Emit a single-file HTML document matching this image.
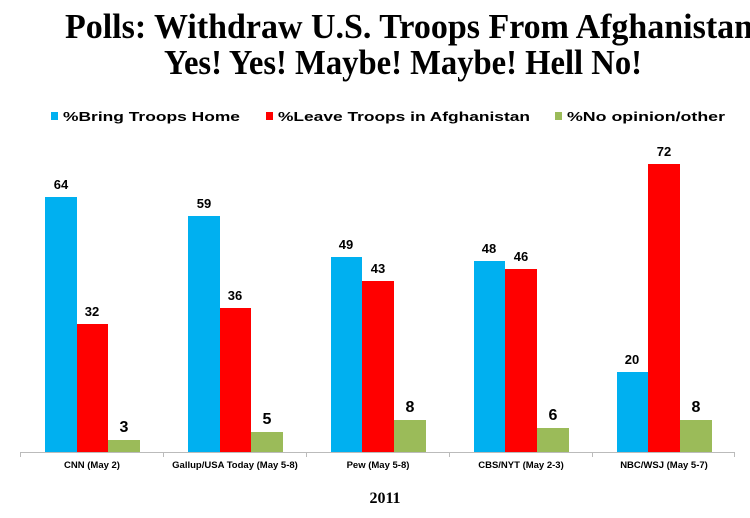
<!DOCTYPE html>
<html><head><style>body{margin:0;background:#fff}svg{display:block}</style></head>
<body>
<svg width="750" height="518" xmlns="http://www.w3.org/2000/svg">
<g font-family="Liberation Serif, serif" font-weight="bold" fill="#000">
<text x="65" y="38" font-size="35" textLength="705" lengthAdjust="spacingAndGlyphs">Polls: Withdraw U.S. Troops From Afghanistan?</text>
<text x="164" y="74" font-size="35" textLength="478" lengthAdjust="spacingAndGlyphs">Yes! Yes! Maybe! Maybe! Hell No!</text>
<text x="385" y="503" font-size="16" text-anchor="middle">2011</text>
</g>
<g font-family="Liberation Sans, sans-serif" font-weight="bold" font-size="13" fill="#000">
<rect x="51" y="112" width="7" height="8" fill="#00b0f0"/>
<text x="63" y="121" textLength="177" lengthAdjust="spacingAndGlyphs">%Bring Troops Home</text>
<rect x="266" y="112" width="7" height="8" fill="#ff0000"/>
<text x="278" y="121" textLength="252" lengthAdjust="spacingAndGlyphs">%Leave Troops in Afghanistan</text>
<rect x="555" y="112" width="7" height="8" fill="#9bbb59"/>
<text x="567" y="121" textLength="158" lengthAdjust="spacingAndGlyphs">%No opinion/other</text>
</g>
<g stroke="#bbb" stroke-width="1">
<line x1="20" y1="452.5" x2="735" y2="452.5"/>
<line x1="20.5" y1="452" x2="20.5" y2="457"/>
<line x1="163.5" y1="452" x2="163.5" y2="457"/>
<line x1="306.5" y1="452" x2="306.5" y2="457"/>
<line x1="449.5" y1="452" x2="449.5" y2="457"/>
<line x1="592.5" y1="452" x2="592.5" y2="457"/>
<line x1="734.5" y1="452" x2="734.5" y2="457"/>
</g>
<g font-family="Liberation Sans, sans-serif" font-weight="bold" font-size="13" text-anchor="middle" fill="#000">
<rect x="45" y="197" width="32" height="255" fill="#00b0f0"/>
<rect x="77" y="324" width="31" height="128" fill="#ff0000"/>
<rect x="108" y="440" width="32" height="12" fill="#9bbb59"/>
<text x="61" y="189">64</text><text x="92" y="316">32</text><text x="124" y="432" font-size="16">3</text>
<rect x="188" y="216" width="32" height="236" fill="#00b0f0"/>
<rect x="220" y="308" width="31" height="144" fill="#ff0000"/>
<rect x="251" y="432" width="32" height="20" fill="#9bbb59"/>
<text x="204" y="208">59</text><text x="235" y="300">36</text><text x="267" y="424" font-size="16">5</text>
<rect x="331" y="257" width="31" height="195" fill="#00b0f0"/>
<rect x="362" y="281" width="32" height="171" fill="#ff0000"/>
<rect x="394" y="420" width="32" height="32" fill="#9bbb59"/>
<text x="346" y="249">49</text><text x="378" y="273">43</text><text x="410" y="412" font-size="16">8</text>
<rect x="474" y="261" width="31" height="191" fill="#00b0f0"/>
<rect x="505" y="269" width="32" height="183" fill="#ff0000"/>
<rect x="537" y="428" width="32" height="24" fill="#9bbb59"/>
<text x="489" y="253">48</text><text x="521" y="261">46</text><text x="553" y="420" font-size="16">6</text>
<rect x="617" y="372" width="31" height="80" fill="#00b0f0"/>
<rect x="648" y="164" width="32" height="288" fill="#ff0000"/>
<rect x="680" y="420" width="32" height="32" fill="#9bbb59"/>
<text x="632" y="364">20</text><text x="664" y="156">72</text><text x="696" y="412" font-size="16">8</text>
</g>
<g font-family="Liberation Sans, sans-serif" font-weight="bold" font-size="9.5" text-anchor="middle" fill="#000">
<text x="92" y="468">CNN (May 2)</text>
<text x="235" y="468">Gallup/USA Today (May 5-8)</text>
<text x="378" y="468">Pew (May 5-8)</text>
<text x="521" y="468">CBS/NYT (May 2-3)</text>
<text x="664" y="468">NBC/WSJ (May 5-7)</text>
</g>
</svg>
</body></html>
